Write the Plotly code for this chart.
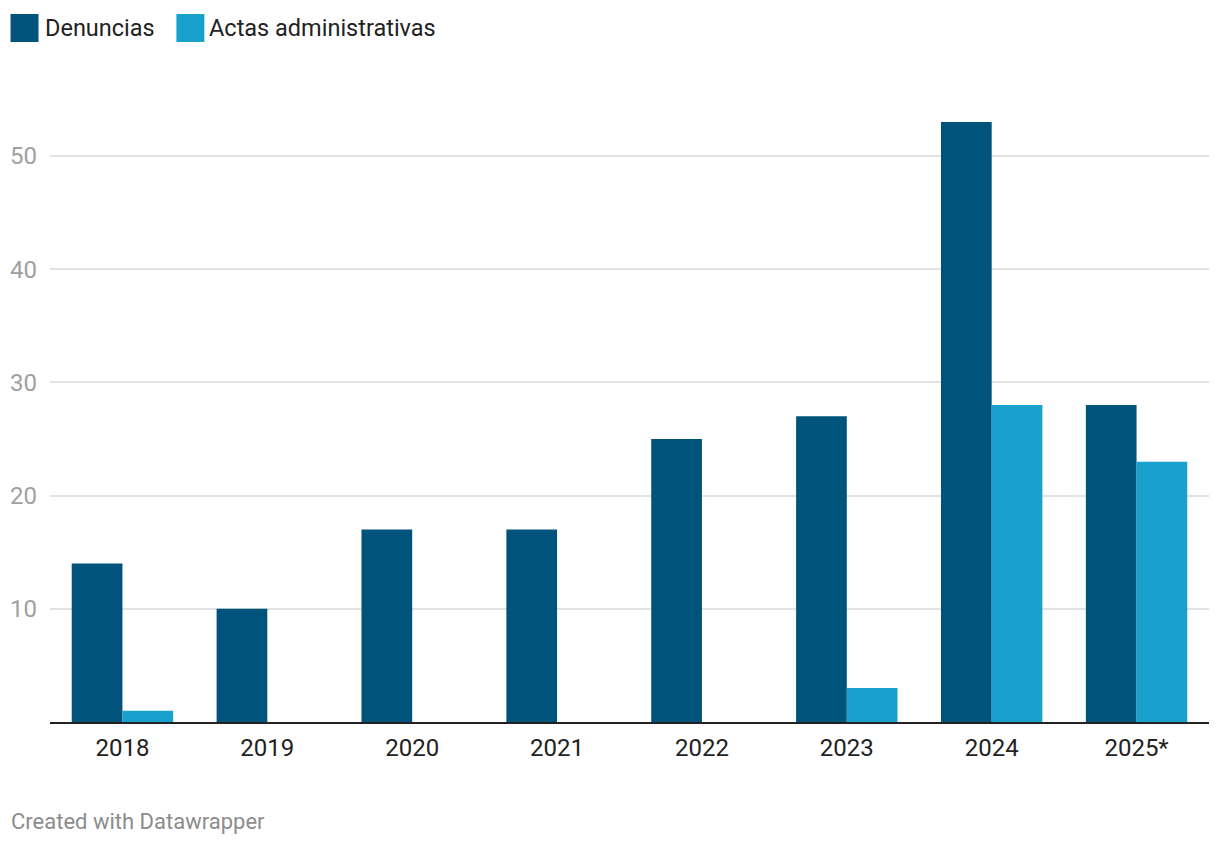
import plotly.graph_objects as go

years = ["2018", "2019", "2020", "2021", "2022", "2023", "2024", "2025*"]
denuncias = [14, 10, 17, 17, 25, 27, 53, 28]
actas = [1, 0, 0, 0, 0, 3, 28, 23]
series_names = ["Denuncias", "Actas administrativas"]
colors = ["#00537a", "#18a1cd"]
y_ticks = [10, 20, 30, 40, 50]

OFF = 8  # page body margin
W, H = 1220 - 2 * OFF, 844 - 2 * OFF
# plot area in page pixels: x 49.5..1209.5, y top 100, baseline 722
L = 49.5 - OFF
R = W - (1209.5 - OFF)
T = 100 - OFF
B = H - (722 - OFF)
PW, PH = W - L - R, H - T - B

def px_x(px):
    return (px - OFF - L) / PW

def px_y(py):
    return (H - B - (py - OFF)) / PH

FONT = "Roboto"

fig = go.Figure()
for name, vals, col in zip(series_names, [denuncias, actas], colors):
    fig.add_trace(go.Bar(x=years, y=vals, name=name, marker=dict(color=col, line=dict(width=0)),
                         showlegend=False))

fig.update_layout(
    width=W, height=H,
    margin=dict(l=L, r=R, t=T, b=B, pad=0),
    paper_bgcolor="white", plot_bgcolor="white",
    barmode="group", bargap=0.3, bargroupgap=0,
    font=dict(family=FONT, size=24, color="#222222"),
    xaxis=dict(showgrid=False, showline=True, linecolor="#222222", linewidth=2,
               ticks="", tickfont=dict(size=24, color="#222222"), ticklabelstandoff=3),
    yaxis=dict(range=[0, PH / 11.32], tickvals=y_ticks, showgrid=True, gridcolor="#e3e3e3",
               gridwidth=1.5, zeroline=False, showline=False, ticks="",
               tickfont=dict(size=24, color="#a0a0a0"), ticklabelstandoff=12),
)

# manual legend
legend_items = [(10, 42, series_names[0], colors[0]), (176, 207, series_names[1], colors[1])]
for sx, tx, label, col in legend_items:
    fig.add_shape(type="rect", xref="paper", yref="paper",
                  x0=px_x(sx), x1=px_x(sx + 28), y0=px_y(42), y1=px_y(14),
                  fillcolor=col, line=dict(width=0))
    fig.add_annotation(xref="paper", yref="paper", x=px_x(tx), y=px_y(28),
                       xanchor="left", yanchor="middle", showarrow=False,
                       text=label, font=dict(size=23.5, color="#222222", family=FONT))

fig.add_annotation(xref="paper", yref="paper", x=px_x(8), y=px_y(821),
                   xanchor="left", yanchor="middle", showarrow=False,
                   text="Created with Datawrapper", font=dict(size=22, color="#8c8c8c", family=FONT))

fig.write_html("out.html")
